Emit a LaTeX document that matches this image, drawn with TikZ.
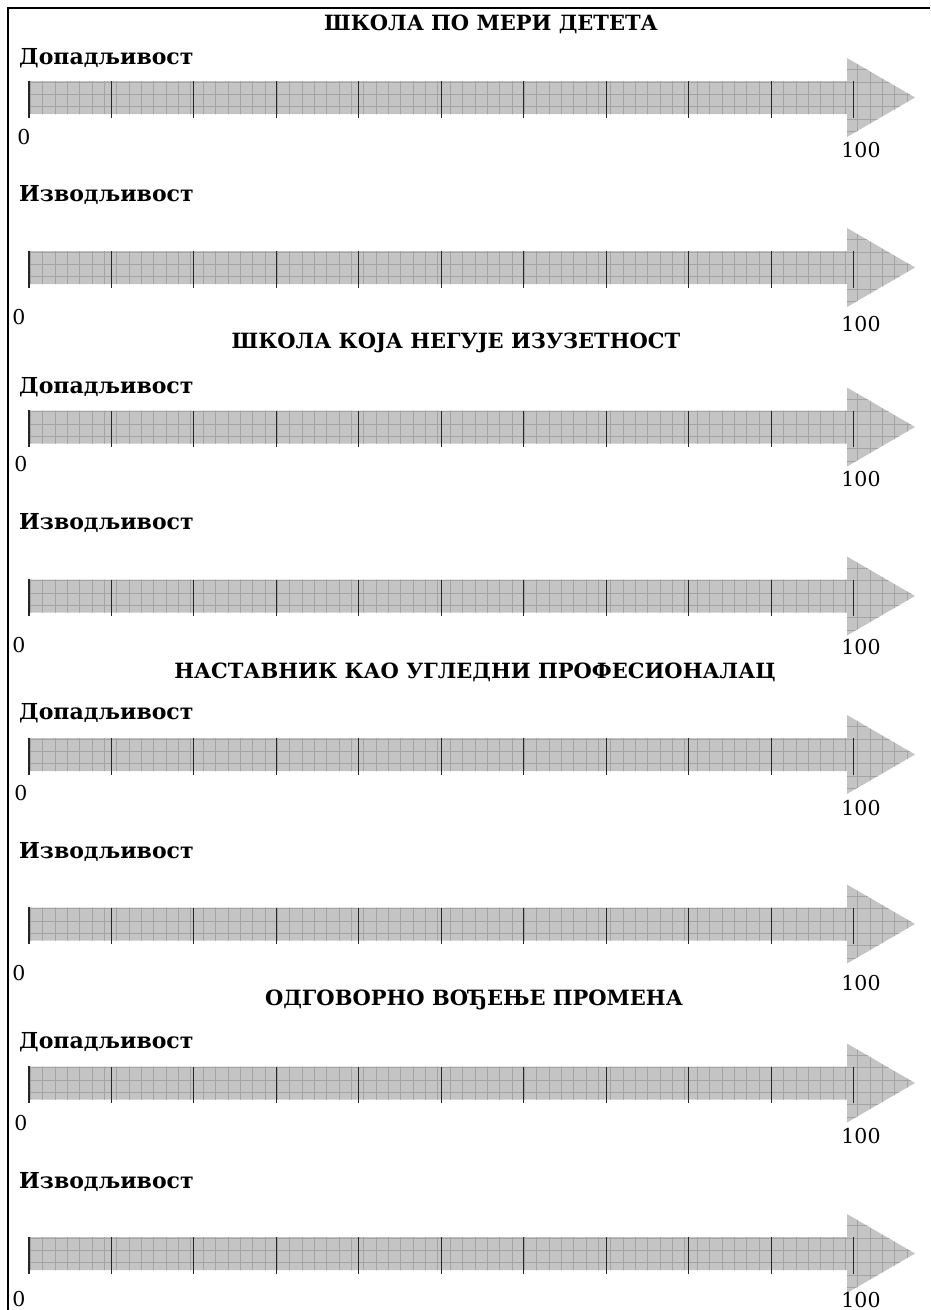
\documentclass[tikz,border=0pt]{standalone}
\usepackage{fontspec}
\setmainfont{DejaVu Serif}
\colorlet{arrow area}{black!23}
\colorlet{grid line}{black!36}
\tikzset{
  filled/.style={fill=arrow area},
  fine grid/.style={draw=grid line, line width=0.8pt}
  }
\tikzstyle{tick} = [draw, black!85, line width=1pt]
\tikzstyle{frame} = [draw, black, line width=2pt]
\tikzstyle{heading} = [font=\bfseries\fontsize{21}{25}\selectfont, inner sep=0pt]
\tikzstyle{rating} = [anchor=base west, font=\bfseries\fontsize{22}{26}\selectfont, inner sep=0pt]
\tikzstyle{number} = [font=\fontsize{20.5}{24}\selectfont, inner sep=0pt]

\begin{document}
\begin{tikzpicture}[x=1pt, y=-1pt]
    \useasboundingbox (0,0) rectangle (930,1310);

    % The frame on top and on the left
    \draw[frame] (930,8) -- (8,8) -- (8,1310);

    % Definition of the arrow outline
    \def\arrowpath{(29,-16.5) -- (847,-16.5) -- (847,-39.5) -- (915,0) -- (847,39.5) -- (847,16.5) -- (29,16.5) -- cycle};

    % The headings
    \foreach \pos/\name/\text in {{(491,24)/ta/ШКОЛА ПО МЕРИ ДЕТЕТА}, {(456,343)/tb/ШКОЛА КОЈА НЕГУЈЕ ИЗУЗЕТНОСТ}, {(475,672)/tc/НАСТАВНИК КАО УГЛЕДНИ ПРОФЕСИОНАЛАЦ}, {(474,1000)/td/ОДГОВОРНО ВОЂЕЊЕ ПРОМЕНА}} {
      \node[heading] (\name) at \pos {\text};
    }

    % The two ratings under every heading
    \foreach \y/\name/\text in {64/da/Допадљивост, 201/ia/Изводљивост, 393/db/Допадљивост, 529/ib/Изводљивост, 719/dc/Допадљивост, 858/ic/Изводљивост, 1048/dd/Допадљивост, 1188/id/Изводљивост} {
      \node[rating] (\name) at (19,\y) {\text};
    }

    % The scales from 0 to 100
    \foreach \y/\zx/\zy/\hy/\name in {97.5/24/137/150/a, 267.5/19/317/324/b, 427/21/464/479/c, 596/19/645/647/d, 754.5/21/793/808/e, 924/19/973/983/f, 1083/21/1123/1136/g, 1253.5/19/1299/1300/h} {
      \begin{scope}[shift={(0,\y)}]
        \fill[filled] \arrowpath;
        \begin{scope}
          \clip \arrowpath;
          \foreach \gx in {30.3,42.65,...,916} {
            \path[fine grid] (\gx,-41) -- (\gx,41);
          }
          \foreach \gy in {-40.15,-27.8,...,35} {
            \path[fine grid] (28,\gy) -- (916,\gy);
          }
        \end{scope}
        \path[tick, line width=2.4pt] (28.7,-17) -- (28.7,20);
        \foreach \k in {1,...,10} {
          \path[tick] (28.7+82.5*\k,-16.5) -- ++(0,36.5);
        }
      \end{scope}
      \node[number] (zero\name) at (\zx,\zy) {0};
      \node[number] (hundred\name) at (861,\hy) {100};
    }
\end{tikzpicture}
\end{document}
